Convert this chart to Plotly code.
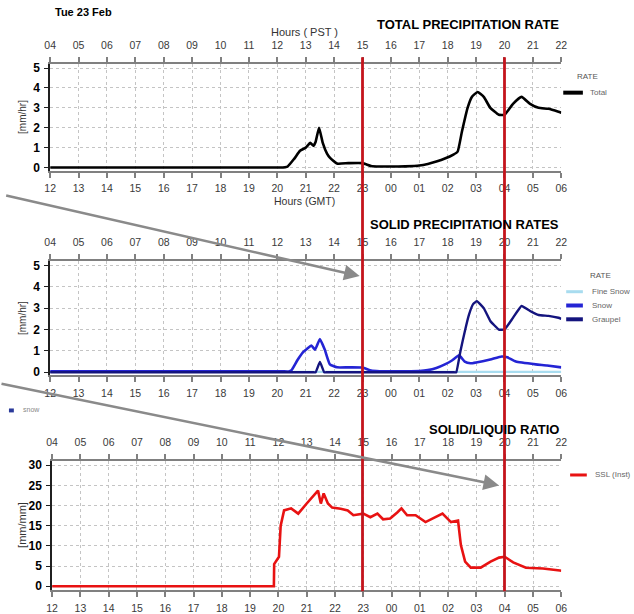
import plotly.graph_objects as go

W, H = 634, 614

# ---------------- data ----------------
gmt_hours = list(range(12, 31))
gmt_labels = ['12', '13', '14', '15', '16', '17', '18', '19', '20', '21', '22', '23',
              '00', '01', '02', '03', '04', '05', '06']
pst_labels = ['04', '05', '06', '07', '08', '09', '10', '11', '12', '13', '14', '15',
              '16', '17', '18', '19', '20', '21', '22']
event_hours = [23, 28]

total_t = [12, 19.5, 19.9, 20.1, 20.36, 20.6, 20.8, 21.0, 21.16, 21.27, 21.35, 21.47, 21.6,
           21.75, 21.85, 22.1, 22.5, 23.0, 23.3, 23.6, 24.0, 24.5, 25.0, 25.3, 25.6, 25.9,
           26.2, 26.35, 26.5, 26.7, 26.85, 27.05, 27.27, 27.5, 27.8, 28.0, 28.3, 28.6,
           28.9, 29.2, 29.55, 29.9, 30]
total_v = [0, 0, 0, 0, 0.05, 0.45, 0.84, 1.0, 1.24, 1.09, 1.3, 2.0, 1.24,
           0.7, 0.5, 0.2, 0.22, 0.22, 0.08, 0.05, 0.05, 0.06, 0.1, 0.18, 0.3, 0.45,
           0.65, 0.8, 1.8, 3.0, 3.55, 3.8, 3.55, 3.0, 2.65, 2.65, 3.2, 3.55,
           3.2, 3.0, 2.95, 2.8, 2.75]

fine_t = [12, 26.4, 30]
fine_v = [0.02, 0.02, 0.02]

snow_t = [12, 19.8, 20.2, 20.4, 20.5, 20.7, 20.9, 21.05, 21.2, 21.33, 21.5, 21.67, 21.85,
          22.1, 22.5, 23.0, 23.3, 23.6, 24.5, 25.0, 25.3, 25.6, 25.9, 26.15, 26.4, 26.6,
          26.8, 27.0, 27.5, 27.9, 28.1, 28.4, 29.1, 29.5, 30]
snow_v = [0.04, 0.04, 0.04, 0.04, 0.1, 0.55, 0.93, 1.1, 1.25, 1.06, 1.55, 1.06, 0.37,
          0.23, 0.23, 0.22, 0.08, 0.05, 0.05, 0.06, 0.1, 0.2, 0.37, 0.55, 0.79, 0.5,
          0.42, 0.46, 0.6, 0.74, 0.7, 0.5, 0.37, 0.32, 0.23]

graupel_t = [12, 21.0, 21.25, 21.35, 21.5, 21.65, 21.75, 22.0, 26.0, 26.2, 26.3, 26.45,
             26.6, 26.75, 26.9, 27.03, 27.27, 27.5, 27.8, 28.0, 28.3, 28.6, 28.9, 29.2,
             29.55, 29.9, 30]
graupel_v = [0, 0, 0, 0, 0.48, 0, 0, 0, 0, 0, 0, 1.0,
             1.9, 2.7, 3.2, 3.33, 3.0, 2.4, 2.0, 2.0, 2.55, 3.1, 2.87, 2.68,
             2.64, 2.55, 2.5]

ssl_t = [12, 19.84, 19.85, 19.95, 20.02, 20.08, 20.2, 20.45, 20.7, 21.0, 21.2, 21.4,
         21.5, 21.6, 21.75, 21.9, 22.2, 22.45, 22.65, 23.0, 23.25, 23.5, 23.7, 23.95,
         24.2, 24.35, 24.55, 24.85, 25.2, 25.55, 25.8, 26.1, 26.35, 26.45, 26.6, 26.8,
         27.15, 27.5, 27.8, 28.0, 28.3, 28.75, 29.35, 29.95, 30]
ssl_v = [0, 0, 5.5, 6.5, 7.3, 15, 18.8, 19.3, 18.0, 20.5, 22, 23.7,
         20.5, 23, 20.5, 19.5, 19.2, 18.8, 17.6, 18, 17.1, 18, 16.6, 16.8,
         18.3, 19.3, 17.6, 17.6, 15.9, 17.1, 18, 15.9, 16.3, 10.2, 6.1, 4.6,
         4.6, 6.1, 7.1, 7.3, 5.9, 4.6, 4.4, 3.9, 3.85]

# ---------------- styling ----------------
FONT = "Liberation Sans, Arial, sans-serif"
GRID = '#c4c4c4'
AXC = '#808080'
RED = '#c4141c'


def pxx(p):
    return p / W


def pyy(p):
    return 1 - p / H


fig = go.Figure()

fig.add_trace(go.Scatter(x=total_t, y=total_v, mode='lines', name='Total',
                         line=dict(color='black', width=2.6, shape='spline', smoothing=0.4),
                         xaxis='x', yaxis='y'))
fig.add_trace(go.Scatter(x=fine_t, y=fine_v, mode='lines', name='Fine Snow',
                         line=dict(color='#a8dcef', width=2.2), xaxis='x3', yaxis='y2'))
fig.add_trace(go.Scatter(x=snow_t, y=snow_v, mode='lines', name='Snow',
                         line=dict(color='#2424d4', width=2.6, shape='spline', smoothing=0.4),
                         xaxis='x3', yaxis='y2'))
fig.add_trace(go.Scatter(x=graupel_t, y=graupel_v, mode='lines', name='Graupel',
                         line=dict(color='#14147e', width=2.4, shape='spline', smoothing=0.3),
                         xaxis='x3', yaxis='y2'))
fig.add_trace(go.Scatter(x=ssl_t, y=ssl_v, mode='lines', name='SSL (Inst)',
                         line=dict(color='#e81212', width=2.6),
                         xaxis='x5', yaxis='y3'))

panels = [
    # (bottom x id, top x id, y id, y top px, y bottom px, x left px, yrange, yticks)
    ('x', 'x2', 'y', 62, 170, 45, [-0.15, 5.2], [0, 1, 2, 3, 4, 5]),
    ('x3', 'x4', 'y2', 262, 378, 45, [-0.15, 5.2], [0, 1, 2, 3, 4, 5]),
    ('x5', 'x6', 'y3', 465, 596, 47, [-1.0, 31.0], [0, 5, 10, 15, 20, 25, 30]),
]

layout_axes = {}
for xb, xt, yy, ytop, ybot, xl, yr, yt in panels:
    # empty trace so that the top (PST) axis of this panel is drawn
    fig.add_trace(go.Scatter(x=[], y=[], xaxis=xt, yaxis=yy, showlegend=False,
                             hoverinfo='skip'))
    xdom = [pxx(xl), pxx(566)]
    common = dict(range=[12, 30], tickvals=gmt_hours, domain=xdom,
                  showline=True, linecolor=AXC, linewidth=2,
                  ticks='outside', ticklen=5, tickcolor=AXC, tickwidth=1.5,
                  tickfont=dict(family=FONT, size=10.5, color='#3a3a3a'),
                  zeroline=False, fixedrange=True)
    bname = 'xaxis' if xb == 'x' else 'xaxis' + xb[1:]
    tname = 'xaxis' + xt[1:]
    yname = 'yaxis' if yy == 'y' else 'yaxis' + yy[1:]
    layout_axes[bname] = dict(common, ticktext=gmt_labels, anchor=yy, side='bottom',
                              showgrid=True, gridcolor=GRID, griddash='dot', gridwidth=1,
                              ticklabelstandoff=2)
    layout_axes[tname] = dict(common, ticktext=pst_labels, anchor=yy, side='top',
                              overlaying=xb, showgrid=False, ticklabelstandoff=4)
    layout_axes[yname] = dict(domain=[pyy(ybot), pyy(ytop)], range=yr, tickvals=yt,
                              anchor=xb, showline=True, linecolor='#202020', linewidth=1.5,
                              ticks='outside', ticklen=4, tickcolor='#202020',
                              tickfont=dict(family=FONT, size=12, color='black', weight='bold'),
                              showgrid=True, gridcolor=GRID, griddash='dot', gridwidth=1,
                              zeroline=False, fixedrange=True, ticklabelstandoff=2)

annotations = []
shapes = []


def text(x, y, s, size, color='black', bold=False, xanchor='left', angle=0):
    annotations.append(dict(x=pxx(x), y=pyy(y), xref='paper', yref='paper', text=s,
                            showarrow=False, xanchor=xanchor, yanchor='middle',
                            textangle=angle,
                            font=dict(family=FONT, size=size, color=color,
                                      weight='bold' if bold else 'normal')))


text(48, 9, 'Tue 23 Feb', 11, bold=True)
text(566, 22, 'TOTAL PRECIPITATION RATE', 13, bold=True, xanchor='right')
text(566, 225, 'SOLID PRECIPITATION RATES', 13, bold=True, xanchor='right')
text(566, 433, 'SOLID/LIQUID RATIO', 13, bold=True, xanchor='right')
text(304, 29, 'Hours ( PST )', 11, color='#333', xanchor='center')
text(304, 201, 'Hours (GMT)', 10.5, color='#333', xanchor='center')
text(17, 116, '[mm/hr]', 10, color='#333', xanchor='center', angle=-90)
text(17, 320, '[mm/hr]', 10, color='#333', xanchor='center', angle=-90)
text(17, 530, '[mm/mm]', 11, color='#333', xanchor='center', angle=-90)


# legends
def legend_item(x0, x1, y, color, width, label, tx):
    shapes.append(dict(type='line', xref='paper', yref='paper', x0=pxx(x0), x1=pxx(x1),
                       y0=pyy(y), y1=pyy(y), line=dict(color=color, width=width)))
    text(tx, y, label, 8, color='#666')


text(580, 75, 'RATE', 8, color='#555')
legend_item(568, 588, 91, 'black', 4, 'Total', 593)
text(593, 277, 'RATE', 8, color='#555')
legend_item(571, 588, 293, '#a8dcef', 3, 'Fine Snow', 595)
legend_item(571, 588, 307, '#2424d4', 4, 'Snow', 595)
legend_item(571, 588, 321, '#14147e', 4, 'Graupel', 595)
legend_item(575, 592, 479, '#e81212', 3, 'SSL (Inst)', 598)

# small "snow" key
shapes.append(dict(type='rect', xref='paper', yref='paper', x0=pxx(3), x1=pxx(8),
                   y0=pyy(415.5), y1=pyy(411.5), fillcolor='#2a3a9a', line=dict(width=0)))
text(15, 413, 'snow', 7, color='#888')

# red event lines through all panels
for h in event_hours:
    shapes.append(dict(type='line', xref='x', yref='paper', x0=h, x1=h,
                       y0=pyy(597), y1=pyy(55), line=dict(color=RED, width=2.8),
                       layer='above'))

# gray arrows (head in data coords, tail offset in pixels)
annotations.append(dict(x=22.9, y=4.5, xref='x3', yref='y2', ax=-355, ay=-81,
                        axref='pixel', ayref='pixel', text='', showarrow=True,
                        arrowhead=2, arrowsize=1.2, arrowwidth=2.6, arrowcolor='#8a8a8a'))
annotations.append(dict(x=27.8, y=25, xref='x5', yref='y3', ax=-500, ay=-102,
                        axref='pixel', ayref='pixel', text='', showarrow=True,
                        arrowhead=2, arrowsize=1.2, arrowwidth=2.6, arrowcolor='#8a8a8a'))

fig.update_layout(width=W, height=H, margin=dict(l=0, r=0, t=0, b=0),
                  paper_bgcolor='white', plot_bgcolor='white', showlegend=False,
                  annotations=annotations, shapes=shapes, **layout_axes)

fig.write_html("out.html")
